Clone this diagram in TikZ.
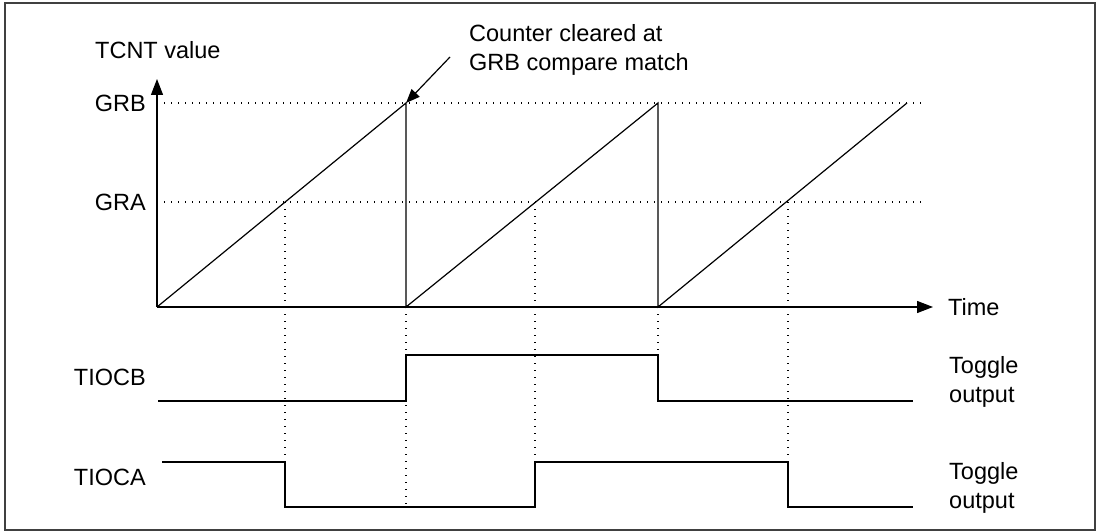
\documentclass[tikz,border=0pt]{standalone}
\usepackage{fontspec}
\setmainfont{Liberation Sans}
\usetikzlibrary{arrows.meta}

\begin{document}
\begin{tikzpicture}[x=1pt, y=-1pt, font=\fontsize{23.5}{29}\selectfont,
  axis/.style={-{Triangle[length=16pt, width=12pt]}, line width=1.3pt},
  ramp/.style={line width=1.2pt},
  wave/.style={line width=1.3pt, line join=miter},
  guide/.style={line width=1.2pt, dash pattern=on 1.2pt off 5.8pt},
  lbl/.style={anchor=base east, inner sep=0pt},
  txt/.style={anchor=base west, inner sep=0pt, align=left}]
  \useasboundingbox (0,0) rectangle (1102,532);
  \draw[line width=1.3pt, black!75] (5,3) rectangle (1095,530);

  % axes and levels
  \coordinate (O) at (157,307);
  \coordinate (ytip) at (157,79);
  \coordinate (xtip) at (933,307);
  \coordinate (grbend) at (925,103);
  \coordinate (graend) at (925,202);
  \draw[guide] (O |- grbend) -- (grbend);
  \draw[guide] (O |- graend) -- (graend);
  \draw[axis] (O) -- (ytip);
  \draw[axis] (O) -- (xtip);
  \node[txt] (tcnt) at (95,59) {TCNT value};
  \node[lbl] (grb) at (146,111.5) {GRB};
  \node[lbl] (gra) at (146,210.5) {GRA};
  \node[txt] (time) at (948,315.5) {Time};

  % counter sawtooth
  \coordinate (pk1) at (406,103);
  \coordinate (pk2) at (658,103);
  \coordinate (pk3) at (907,103);
  \coordinate (c1) at (406,307);
  \coordinate (c2) at (658,307);
  \coordinate (a1) at (285,202);
  \coordinate (a2) at (535,202);
  \coordinate (a3) at (788,202);
  \draw[ramp] (O) -- (pk1) -- (c1) -- (pk2) -- (c2) -- (pk3);

  % note (base = last line)
  \node[txt] (note) at (469,71) {Counter cleared at\\GRB compare match};
  \coordinate (notetail) at (450,57);
  \draw[-{Triangle[length=14pt, width=11pt]}, line width=1.2pt] (notetail) -- (pk1);

  % output waveforms
  \node[lbl] (tiocb) at (146,385.5) {TIOCB};
  \node[lbl] (tioca) at (146,485.5) {TIOCA};
  \draw[wave] (158,401) -- (406,401) -- (406,355) coordinate (b1) -- (658,355) coordinate (b2)
    -- (658,401) -- (913,401);
  \draw[wave] (162,462) -- (285,462) coordinate (e1) -- (285,507) -- (406,507) coordinate (e2)
    -- (535,507) -- (535,462) coordinate (e3) -- (788,462) coordinate (e4) -- (788,507) -- (913,507);
  \node[txt] (togb) at (949,402) {Toggle\\output};
  \node[txt] (toga) at (949,508) {Toggle\\output};

  % guide lines
  \draw[guide] (a1) -- (e1);
  \draw[guide] (c1) -- (e2);
  \draw[guide] (a2) -- (e3);
  \draw[guide] (c2) -- (b2);
  \draw[guide] (a3) -- (e4);
\end{tikzpicture}
\end{document}
